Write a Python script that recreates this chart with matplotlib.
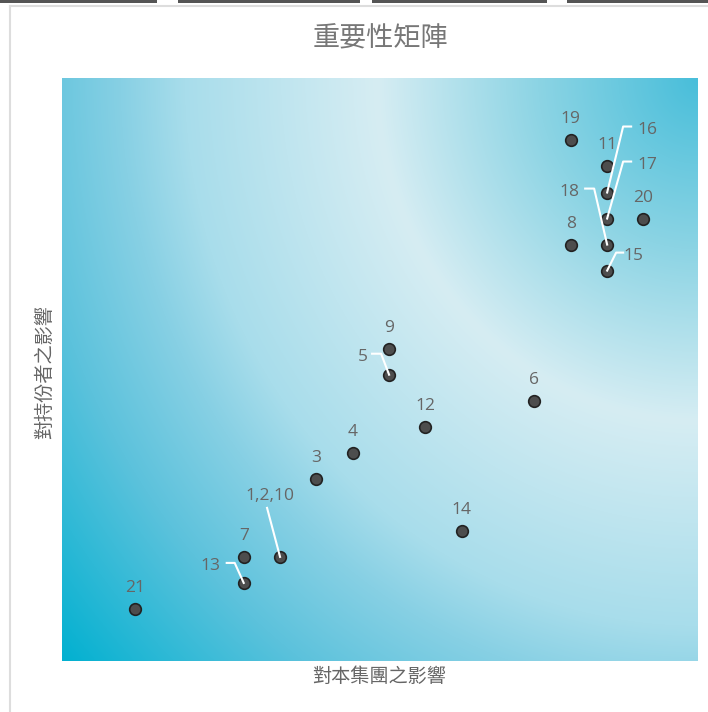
import numpy as np
import matplotlib
matplotlib.use('Agg')
import matplotlib.pyplot as plt
from matplotlib.patches import Rectangle
from matplotlib.lines import Line2D

plt.rcParams['font.family'] = ['Open Sans', 'Noto Sans CJK TC', 'DejaVu Sans']

# 數據
labels = ['21', '13', '7', '1,2,10', '3', '4', '5', '9', '12', '14', '6',
          '8', '19', '11', '16', '17', '18', '15', '20']
x_group = [2, 5, 5, 6, 7, 8, 9, 9, 10, 11, 13, 14, 14, 15, 15, 15, 15, 15, 16]
y_stake = [2, 3, 4, 4, 7, 8, 11, 12, 9, 5, 10, 16, 20, 19, 18, 17, 16, 15, 17]

title = '重要性矩陣'
xlabel = '對本集團之影響'
ylabel = '對持份者之影響'

xmax, ymax = 17.5, 22.4

W, H = 708, 712
fig = plt.figure(figsize=(W / 100, H / 100), dpi=100)

# 頁面外框
fig.add_artist(Line2D([10 / W, 10 / W], [0, 1 - 6 / H], color='#dddddd', lw=1.5))
fig.add_artist(Line2D([10 / W, 1], [1 - 6 / H, 1 - 6 / H], color='#dddddd', lw=1.5))
for a, b in [(0, 157), (178, 360), (372, 547), (567, 708)]:
    fig.add_artist(Rectangle((a / W, 1 - 2.5 / H), (b - a) / W, 2.5 / H,
                             color='#555555', lw=0))

left, right, top, bottom = 62, 698, 78, 661
ax = fig.add_axes([left / W, 1 - bottom / H, (right - left) / W, (bottom - top) / H])
ax.set_xlim(0, xmax)
ax.set_ylim(0, ymax)

# 漸變背景（以右上角為中心的橢圓放射漸變）
pw, ph = right - left, bottom - top
gx, gy = np.meshgrid(np.arange(pw), np.arange(ph))
r = np.hypot((pw - gx) / 321, gy / 342)
stops = [0, 0.5, 1.0, 1.6, 1.8, 2.1, 2.62]
cols = np.array([[72, 190, 218], [140, 212, 228], [214, 237, 243],
                 [168, 221, 235], [135, 208, 228], [92, 194, 220],
                 [0, 176, 208]]) / 255
img = np.stack([np.interp(r, stops, cols[:, i]) for i in range(3)], axis=-1)
ax.imshow(img, extent=[0, xmax, 0, ymax], origin='upper', aspect='auto', zorder=0)

for s in ax.spines.values():
    s.set_visible(False)
ax.set_xticks([])
ax.set_yticks([])

ax.scatter(x_group, y_stake, s=70, color='#4d4d4d', edgecolor='#222222',
           linewidth=1.2, zorder=3)

# 像素 -> 數據單位
ux = pw / xmax
uy = ph / ymax

# 有引線的標籤：文字偏移與引線（像素）
leaders = {
    '16': ((40, 63), [(24, 66), (16, 66), (0, 0)]),
    '17': ((40, 54), [(24, 57), (16, 57), (0, 0)]),
    '18': ((-38, 53), [(-22, 56), (-13, 56), (0, 0)]),
    '15': ((26, 15), [(16, 18), (9, 18), (0, 0)]),
    '13': ((-33, 17), [(-17, 20), (-9, 20), (0, 0)]),
    '1,2,10': ((-10, 61), [(-13, 49), (0, 0)]),
    '5': ((-26, 18), [(-17, 21), (-8, 21), (0, 0)]),
}

for lab, xv, yv in zip(labels, x_group, y_stake):
    if lab in leaders:
        (tx, ty), path = leaders[lab]
        ax.plot([xv + px / ux for px, py in path], [yv + py / uy for px, py in path],
                color='white', lw=1.5, zorder=4)
    else:
        tx, ty = 0, 21
    ax.text(xv + tx / ux, yv + ty / uy, lab, ha='center', va='center',
            fontsize=12.5, color='#666666', zorder=5)

fig.text(380 / W, 1 - 39 / H, title, ha='center', va='center',
         fontsize=19.5, color='#777777')
fig.text(379 / W, 1 - 677 / H, xlabel, ha='center', va='center',
         fontsize=13.8, color='#666666')
fig.text(45 / W, 1 - 372 / H, ylabel, ha='center', va='center',
         fontsize=13.8, color='#666666', rotation=90)

fig.savefig('out.png', dpi=100)
